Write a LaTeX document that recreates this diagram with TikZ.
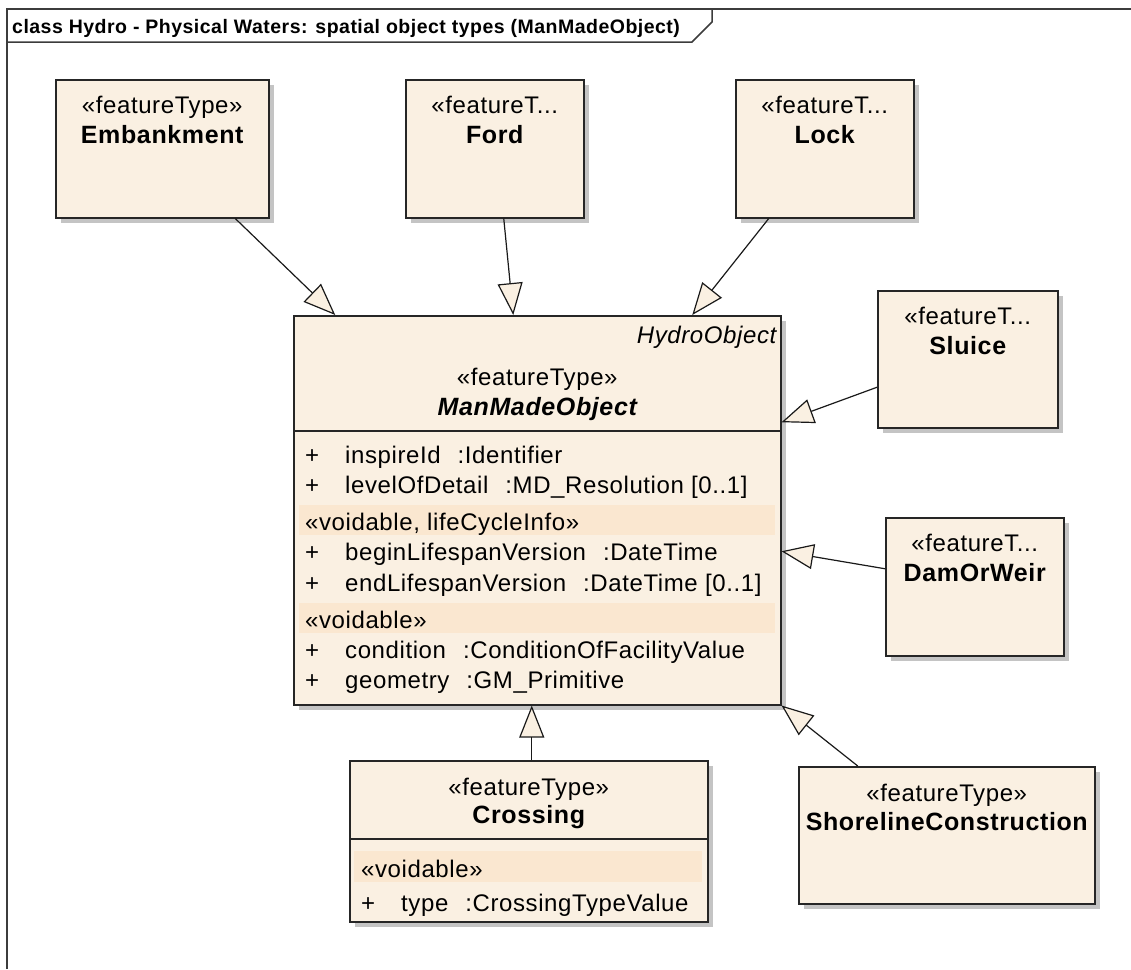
\documentclass[tikz,border=0pt]{standalone}
\usepackage{fontspec}
\setmainfont{Liberation Sans}[LetterSpace=2.5]
\usetikzlibrary{arrows.meta,shadows,calc}

\definecolor{boxfill}{HTML}{FAF0E2}
\definecolor{bandfill}{HTML}{FAE7D0}
\definecolor{shadowgray}{HTML}{C4C4C4}
\definecolor{framegray}{HTML}{3C3C3C}

\newcommand{\attrsep}{\hspace{17pt}}
\newcommand{\vis}{\makebox[40pt][l]{+}}

\tikzset{
  cls/.style={draw=black!85, line width=1.5pt, fill=boxfill, anchor=north west, inner sep=0pt,
    drop shadow={shadow xshift=5pt, shadow yshift=-5pt, fill=shadowgray, opacity=1}},
  stereo/.style={anchor=base, inner sep=0pt, font=\fontsize{24}{29}\selectfont},
  cname/.style={anchor=base, inner sep=0pt, font=\fontsize{25}{29}\selectfont\bfseries},
  attr/.style={anchor=base west, inner sep=0pt, font=\fontsize{24}{29}\selectfont},
  band/.style={fill=bandfill, anchor=north west, inner sep=0pt, minimum height=30pt},
  gen/.style={draw=black!90, line width=1.2pt, -{Triangle[length=32pt, width=25pt, fill=boxfill]}},
}

\begin{document}
\begin{tikzpicture}[x=1pt,y=-1pt]
  \useasboundingbox (0,0) rectangle (1131,969);
  \draw[framegray, line width=2pt] (7,969) -- (7,9) -- (1131,9);
  \draw[framegray, line width=1.5pt] (7,42) -- (692,42) -- (712,22) -- (712,9);
  \node[anchor=base west, inner sep=0pt, font=\fontsize{19.5}{24}\selectfont\bfseries] (title) at (12,33)
    {class Hydro - Physical Waters: spatial object types (ManMadeObject)};

  \node[cls, minimum width=213pt, minimum height=138pt] (emb) at (55,79) {};
  \node[stereo] (emb-st) at ($(emb.north)+(0,34)$) {«featureType»};
  \node[cname] (emb-nm) at ($(emb.north)+(0,64)$) {Embankment};

  \node[cls, minimum width=178pt, minimum height=138pt] (ford) at (405,79) {};
  \node[stereo] (ford-st) at ($(ford.north)+(0,34)$) {«featureT...};
  \node[cname] (ford-nm) at ($(ford.north)+(0,64)$) {Ford};

  \node[cls, minimum width=178pt, minimum height=138pt] (lock) at (735,79) {};
  \node[stereo] (lock-st) at ($(lock.north)+(0,34)$) {«featureT...};
  \node[cname] (lock-nm) at ($(lock.north)+(0,64)$) {Lock};

  \node[cls, minimum width=180pt, minimum height=137pt] (sluice) at (877,290) {};
  \node[stereo] (sluice-st) at ($(sluice.north)+(0,34)$) {«featureT...};
  \node[cname] (sluice-nm) at ($(sluice.north)+(0,64)$) {Sluice};

  \node[cls, minimum width=178pt, minimum height=138pt] (dam) at (885,517) {};
  \node[stereo] (dam-st) at ($(dam.north)+(0,34)$) {«featureT...};
  \node[cname] (dam-nm) at ($(dam.north)+(0,64)$) {DamOrWeir};

  \node[cls, minimum width=487pt, minimum height=389pt] (mmo) at (293,315) {};
  \draw[black!85, line width=1.5pt] ($(mmo.north west)+(0,116)$) -- ($(mmo.north east)+(0,116)$);
  \node[band, minimum width=476pt] (mmo-b1) at ($(mmo.north west)+(6,190)$) {};
  \node[band, minimum width=476pt] (mmo-b2) at ($(mmo.north west)+(6,288)$) {};
  \node[anchor=base east, inner sep=0pt, font=\fontsize{24}{29}\selectfont\itshape] (mmo-sup)
    at ($(mmo.north east)+(-5,28)$) {HydroObject};
  \node[stereo] (mmo-st) at ($(mmo.north)+(0,70)$) {«featureType»};
  \node[cname, font=\fontsize{25}{29}\selectfont\bfseries\itshape] (mmo-nm) at ($(mmo.north)+(0,100)$) {ManMadeObject};
  \node[attr] (mmo-a1) at ($(mmo.north west)+(12,148)$) {\vis inspireId\attrsep:Identifier};
  \node[attr] (mmo-a2) at ($(mmo.north west)+(12,178)$) {\vis levelOfDetail\attrsep:MD\_Resolution [0..1]};
  \node[attr] (mmo-s1) at ($(mmo.north west)+(12,215)$) {«voidable, lifeCycleInfo»};
  \node[attr] (mmo-a3) at ($(mmo.north west)+(12,245)$) {\vis beginLifespanVersion\attrsep:DateTime};
  \node[attr] (mmo-a4) at ($(mmo.north west)+(12,276)$) {\vis endLifespanVersion\attrsep:DateTime [0..1]};
  \node[attr] (mmo-s2) at ($(mmo.north west)+(12,313)$) {«voidable»};
  \node[attr] (mmo-a5) at ($(mmo.north west)+(12,343)$) {\vis condition\attrsep:ConditionOfFacilityValue};
  \node[attr] (mmo-a6) at ($(mmo.north west)+(12,373)$) {\vis geometry\attrsep:GM\_Primitive};

  \node[cls, minimum width=358pt, minimum height=161pt] (cross) at (349,760) {};
  \draw[black!85, line width=1.5pt] ($(cross.north west)+(0,79)$) -- ($(cross.north east)+(0,79)$);
  \node[band, minimum width=348pt, minimum height=31pt] (cross-b1) at ($(cross.north west)+(5,91)$) {};
  \node[stereo] (cross-st) at ($(cross.north)+(0,35)$) {«featureType»};
  \node[cname] (cross-nm) at ($(cross.north)+(0,63)$) {Crossing};
  \node[attr] (cross-s1) at ($(cross.north west)+(12,117)$) {«voidable»};
  \node[attr] (cross-a1) at ($(cross.north west)+(12,151)$) {\vis type\attrsep:CrossingTypeValue};

  \node[cls, minimum width=296pt, minimum height=137pt] (shore) at (798,766) {};
  \node[stereo] (shore-st) at ($(shore.north)+(0,35)$) {«featureType»};
  \node[cname] (shore-nm) at ($(shore.north)+(0,64)$) {ShorelineConstruction};

  \draw[gen] ([xshift=73pt]emb.south) -- ([xshift=-202pt]mmo.north);
  \draw[gen] ([xshift=9pt]ford.south) -- ([xshift=-24pt]mmo.north);
  \draw[gen] ([xshift=-56pt]lock.south) -- ([xshift=155pt]mmo.north);
  \draw[gen] ([yshift=-28pt]sluice.west) -- ([yshift=88pt]mmo.east);
  \draw[gen] ([yshift=18pt]dam.west) -- ([yshift=-41pt]mmo.east);
  \draw[gen] ([xshift=3pt]cross.north) -- ([xshift=3pt]cross.north |- mmo.south);
  \draw[gen] ([xshift=-89pt]shore.north) -- (mmo.south east);
\end{tikzpicture}
\end{document}
